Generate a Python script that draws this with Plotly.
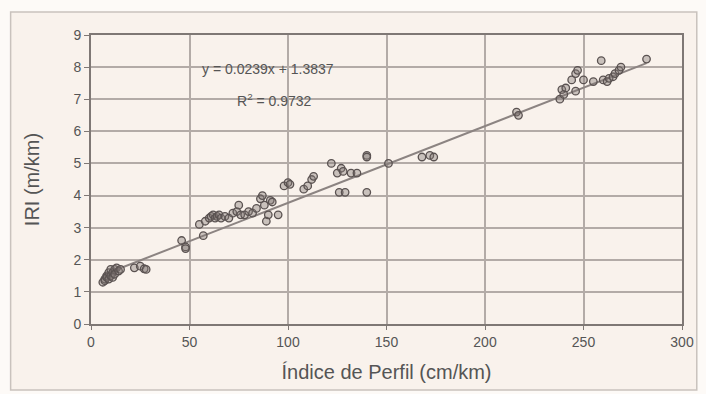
import plotly.graph_objects as go

# Measured profile index (cm/km) against roughness IRI (m/km)
indice_perfil = [
    6, 7, 7, 8, 8, 9, 9, 10, 10, 11, 11, 12, 12, 13, 14, 15,
    22, 25, 27, 28,
    46, 48, 48,
    55, 57, 58, 60, 61, 62, 63, 64, 65, 66, 68, 70, 72, 74, 75, 76, 78, 80,
    82, 84, 86, 87, 88, 89, 90, 91, 92, 95, 98, 100, 101, 108, 110, 112, 113,
    122, 125, 126, 127, 128, 129, 132, 135, 140, 140, 140, 151, 168, 172, 174,
    216, 217,
    238, 239, 240, 241, 244, 246, 246, 247, 250, 255, 259, 260, 262, 263,
    265, 266, 268, 269, 282,
]
iri = [
    1.30, 1.40, 1.35, 1.50, 1.45, 1.60, 1.40, 1.50, 1.70, 1.60, 1.45, 1.70, 1.55, 1.75, 1.65, 1.70,
    1.75, 1.80, 1.72, 1.70,
    2.60, 2.40, 2.35,
    3.10, 2.75, 3.20, 3.30, 3.35, 3.40, 3.30, 3.35, 3.40, 3.30, 3.35, 3.30, 3.45, 3.50, 3.70, 3.40, 3.40, 3.50,
    3.45, 3.60, 3.90, 4.00, 3.70, 3.20, 3.40, 3.85, 3.80, 3.40, 4.30, 4.40, 4.35, 4.20, 4.30, 4.50, 4.60,
    5.00, 4.70, 4.10, 4.85, 4.75, 4.10, 4.70, 4.70, 5.25, 5.20, 4.10, 5.00, 5.20, 5.25, 5.20,
    6.60, 6.50,
    7.00, 7.30, 7.15, 7.35, 7.60, 7.80, 7.25, 7.90, 7.60, 7.55, 8.20, 7.60, 7.55, 7.65,
    7.70, 7.80, 7.90, 8.00, 8.25,
]

# Linear fit reported on the chart
slope = 0.0239
intercept = 1.3837
r2 = 0.9732
fit_x = [min(indice_perfil), max(indice_perfil)]
fit_y = [slope * v + intercept for v in fit_x]

x_ticks = [0, 50, 100, 150, 200, 250, 300]
y_ticks = [0, 1, 2, 3, 4, 5, 6, 7, 8, 9]

font_family = "Liberation Sans Narrow, Liberation Sans, Arial, sans-serif"
grid_col = "#b3aba7"
axis_col = "#7f7875"
cream = "#f9f2ec"

fig = go.Figure()
fig.add_trace(go.Scatter(
    x=fit_x, y=fit_y, mode="lines",
    line=dict(color="#8c8482", width=2),
    showlegend=False, hoverinfo="skip",
))
fig.add_trace(go.Scatter(
    x=indice_perfil, y=iri, mode="markers",
    marker=dict(symbol="circle", size=7.5, color="rgba(130,120,118,0.4)",
                line=dict(color="#5a5251", width=1.3)),
    showlegend=False,
))

fig.add_annotation(x=90, y=7.95, xref="x", yref="y", showarrow=False,
                   text=f"y = {slope}x + {intercept}",
                   font=dict(family=font_family, size=14, color="#555"))
fig.add_annotation(x=93, y=6.98, xref="x", yref="y", showarrow=False,
                   text=f"R<sup>2</sup> = {r2}",
                   font=dict(family=font_family, size=14, color="#555"))

# Cream chart-area panel with thin frame
fig.add_shape(type="rect", xref="paper", yref="paper",
              x0=-0.136, x1=1.025, y0=-0.228, y1=1.08,
              fillcolor=cream, line=dict(color="#c9c2bd", width=1.5),
              layer="below")

fig.update_xaxes(
    range=[0, 300], tickvals=x_ticks, ticks="outside", ticklen=4,
    tickcolor=axis_col, showgrid=True, gridcolor=grid_col, gridwidth=2,
    showline=True, linecolor=axis_col, linewidth=2, mirror=True,
    zeroline=False,
    tickfont=dict(family=font_family, size=14, color="#555"),
    title=dict(text="Índice de Perfil (cm/km)", standoff=16,
               font=dict(family=font_family, size=20, color="#555")),
)
fig.update_yaxes(
    range=[0, 9], tickvals=y_ticks, ticks="outside", ticklen=5,
    tickcolor=axis_col, showgrid=True, gridcolor=grid_col, gridwidth=2,
    showline=True, linecolor=axis_col, linewidth=2, mirror=True,
    zeroline=False,
    tickfont=dict(family=font_family, size=14, color="#555"),
    title=dict(text="IRI (m/km)", standoff=28,
               font=dict(family=font_family, size=20, color="#555")),
)

fig.update_layout(
    width=706, height=394,
    margin=dict(l=91, r=21, t=35, b=70),
    paper_bgcolor="#fdfaf7",
    plot_bgcolor="rgba(0,0,0,0)",
)

fig.write_html("out.html")
